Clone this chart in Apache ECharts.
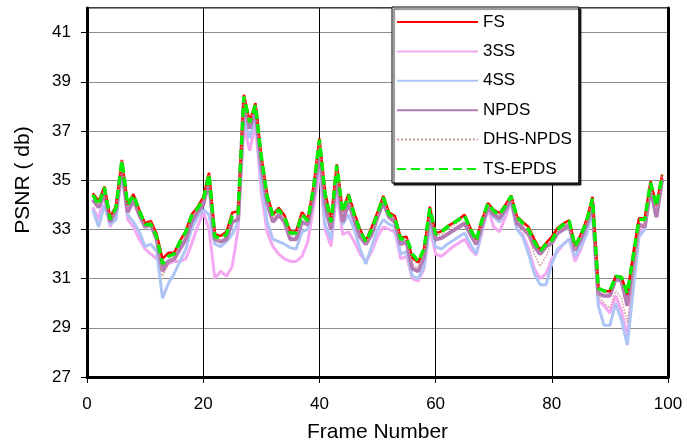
<!DOCTYPE html>
<html>
<head>
<meta charset="utf-8">
<script src="https://cdn.jsdelivr.net/npm/echarts@6/dist/echarts.min.js"></script>
<style>
html,body{margin:0;padding:0;background:#fff;}
#chart{width:687px;height:448px;}
</style>
</head>
<body>
<div id="chart"></div>
<script>
const frames = Array.from({length: 99}, (_, i) => i + 1);
const xTicks = [0, 20, 40, 60, 80, 100];
const yTicks = [27, 29, 31, 33, 35, 37, 39, 41];

const fsVals = [
 34.47, 34.15, 34.74, 33.48, 33.98, 35.82, 34.02, 34.43, 33.79, 33.25, 33.34, 32.8, 31.81, 32.05, 32.05, 32.53, 32.93, 33.6, 33.9, 34.3,
 35.3, 32.8, 32.73, 32.9, 33.68, 33.75, 38.47, 37.4, 38.13, 36.0, 34.43, 33.6, 33.88, 33.57, 32.9, 32.93, 33.7, 33.4, 34.77, 36.7,
 34.5, 33.4, 35.64, 33.75, 34.43, 33.68, 33.0, 32.53, 33.1, 33.7, 34.36, 33.68, 33.54, 32.66, 32.7, 31.85, 31.65, 32.19, 33.92, 32.85,
 32.92, 33.12, 33.26, 33.42, 33.6, 33.05, 32.58, 33.4, 34.07, 33.8, 33.66, 34.0, 34.37, 33.53, 33.3, 33.1, 32.6, 32.17, 32.44, 32.7,
 33.06, 33.24, 33.37, 32.34, 32.79, 33.4, 34.32, 30.62, 30.49, 30.49, 31.1, 31.07, 30.35, 32.0, 33.45, 33.45, 34.96, 34.0, 35.23
];
const ss3Vals = [
 33.9, 33.4, 34.5, 33.1, 33.7, 35.3, 33.4, 33.1, 32.6, 32.2, 32.0, 31.8, 31.7, 31.6, 31.7, 31.7, 31.8, 32.4, 33.1, 33.7,
 33.0, 31.0, 31.3, 31.1, 31.5, 33.0, 37.2, 36.2, 37.3, 34.5, 32.9, 32.3, 32.0, 31.8, 31.7, 31.7, 31.9, 32.5, 33.9, 35.4,
 33.0, 32.3, 34.6, 32.8, 32.9, 32.5, 32.0, 31.7, 32.1, 32.7, 33.1, 33.0, 32.9, 31.8, 31.9, 31.0, 30.9, 31.4, 33.1, 32.0,
 31.9, 32.1, 32.3, 32.45, 32.6, 32.2, 31.95, 32.9, 33.85, 33.1, 32.9, 33.5, 34.1, 33.0, 32.8, 32.2, 31.4, 31.0, 31.2, 31.8,
 32.1, 32.4, 32.6, 31.7, 32.2, 32.9, 33.9, 30.1, 29.9, 29.6, 30.3, 29.7, 28.6, 30.8, 32.8, 33.1, 34.7, 33.6, 35.1
];
const ss4Vals = [
 33.8, 33.1, 34.0, 33.2, 33.4, 35.3, 33.6, 33.3, 32.9, 32.3, 32.4, 32.1, 30.2, 30.8, 31.2, 31.7, 32.2, 33.0, 33.5, 33.8,
 33.6, 32.4, 32.3, 32.5, 32.8, 33.3, 37.5, 36.7, 37.6, 35.0, 33.3, 32.6, 32.5, 32.4, 32.25, 32.2, 32.9, 33.0, 34.3, 35.9,
 33.2, 32.6, 35.0, 33.2, 33.6, 33.0, 32.2, 31.6, 32.3, 33.0, 33.4, 33.2, 33.1, 32.0, 32.1, 31.1, 31.0, 31.5, 33.1, 32.3,
 32.2, 32.4, 32.55, 32.7, 32.85, 32.4, 32.0, 33.0, 33.85, 33.5, 33.3, 33.7, 34.1, 33.0, 32.7, 32.0, 31.2, 30.75, 30.75, 31.6,
 32.2, 32.4, 32.6, 31.9, 32.3, 32.8, 33.8, 29.9, 29.1, 29.1, 30.0, 29.3, 28.3, 30.5, 32.7, 33.0, 34.6, 33.6, 35.0
];
const npdsVals = [
 34.2, 33.9, 34.5, 33.3, 33.8, 35.6, 33.7, 34.2, 33.6, 33.1, 33.2, 32.6, 31.3, 31.7, 31.8, 32.2, 32.6, 33.3, 33.7, 34.0,
 35.0, 32.6, 32.5, 32.6, 33.3, 33.4, 38.2, 37.1, 37.9, 35.6, 34.1, 33.3, 33.6, 33.3, 32.6, 32.6, 33.3, 33.2, 34.4, 36.2,
 34.0, 33.0, 35.3, 33.3, 34.1, 33.4, 32.7, 32.4, 32.8, 33.5, 34.1, 33.5, 33.3, 32.4, 32.5, 31.4, 31.3, 31.9, 33.6, 32.6,
 32.65, 32.8, 32.95, 33.1, 33.25, 32.8, 32.4, 33.2, 33.9, 33.6, 33.45, 33.8, 34.25, 33.25, 33.05, 32.8, 32.3, 32.0, 32.3, 32.45,
 32.85, 33.0, 33.2, 32.15, 32.6, 33.2, 34.1, 30.4, 30.3, 30.3, 31.0, 30.9, 29.9, 31.6, 33.2, 33.1, 34.7, 33.5, 35.05
];
const dhsVals = [
 34.4, 34.0, 34.7, 33.4, 33.9, 35.8, 33.9, 34.3, 33.7, 33.2, 33.3, 32.7, 31.1, 31.6, 31.9, 32.4, 32.8, 33.5, 33.85, 34.2,
 35.2, 32.6, 32.55, 32.75, 33.6, 33.7, 38.4, 37.3, 38.05, 35.9, 34.3, 33.45, 33.75, 33.45, 32.75, 32.8, 33.6, 33.35, 34.7, 36.6,
 34.3, 33.2, 35.55, 33.6, 34.3, 33.55, 32.9, 32.45, 32.9, 33.6, 34.3, 33.6, 33.45, 32.55, 32.6, 31.6, 31.4, 32.0, 33.85, 32.75,
 32.8, 33.0, 33.15, 33.3, 33.5, 33.0, 32.5, 33.35, 34.0, 33.75, 33.6, 33.95, 34.3, 33.45, 33.2, 32.7, 32.0, 31.5, 31.9, 32.5,
 32.9, 33.1, 33.3, 32.2, 32.7, 33.3, 34.25, 30.3, 30.0, 29.8, 30.5, 30.2, 29.2, 31.0, 33.0, 33.2, 34.8, 33.8, 35.2
];
const tsVals = [
 34.4, 34.0, 34.7, 33.4, 33.9, 35.8, 34.0, 34.4, 33.75, 33.2, 33.2, 32.7, 31.6, 31.9, 32.0, 32.5, 32.9, 33.55, 33.85, 34.2,
 35.25, 32.7, 32.65, 32.8, 33.55, 33.65, 38.4, 37.35, 38.05, 35.95, 34.35, 33.55, 33.8, 33.5, 32.85, 32.85, 33.6, 33.35, 34.7, 36.65,
 34.4, 33.3, 35.6, 33.7, 34.4, 33.6, 32.95, 32.5, 33.0, 33.65, 34.3, 33.6, 33.45, 32.6, 32.65, 32.0, 31.7, 32.2, 33.85, 32.8,
 32.9, 33.1, 33.25, 33.4, 33.55, 33.0, 32.55, 33.4, 34.05, 33.75, 33.6, 33.95, 34.35, 33.5, 33.25, 33.0, 32.5, 32.1, 32.4, 32.55,
 33.0, 33.2, 33.35, 32.3, 32.75, 33.35, 34.25, 30.6, 30.5, 30.5, 31.1, 31.05, 30.4, 31.9, 33.4, 33.4, 34.9, 33.95, 35.2
];

const seriesNames = ['FS', '3SS', '4SS', 'NPDS', 'DHS-NPDS', 'TS-EPDS'];
const pair = vals => frames.map((f, i) => [f, vals[i]]);
const FONT = "'Liberation Sans', Arial, sans-serif";

const chart = echarts.init(document.getElementById('chart'), null, {renderer: 'canvas'});

function mk(name, vals, color, width, type, z) {
  return {
    name: name, type: 'line', data: pair(vals), symbol: 'none', showSymbol: false,
    lineStyle: {color: color, width: width, type: type},
    itemStyle: {color: color},
    z: z, animation: false
  };
}

chart.setOption({
  animation: false,
  backgroundColor: '#ffffff',
  grid: {left: 87, right: 19, top: 8, bottom: 70, show: true, borderColor: '#000', borderWidth: 1.5, backgroundColor: 'transparent'},
  legend: {
    data: seriesNames,
    orient: 'vertical',
    left: 392, top: 7,
    padding: [5, 7, 4, 4],
    itemWidth: 81, itemHeight: 14, itemGap: 9.4,
    backgroundColor: '#fff', borderColor: '#000', borderWidth: 1,
    shadowColor: 'rgba(0,0,0,0.85)', shadowBlur: 1, shadowOffsetX: 2, shadowOffsetY: 2,
    itemStyle: {opacity: 0},
    textStyle: {fontFamily: FONT, fontSize: 17, color: '#000', lineHeight: 20},
    z: 20
  },
  xAxis: [{
    type: 'value', min: xTicks[0], max: xTicks[xTicks.length - 1], interval: 20,
    axisLine: {show: true, onZero: false, lineStyle: {color: '#000', width: 3}},
    axisTick: {show: true, length: 6, lineStyle: {color: '#000', width: 1}},
    axisLabel: {fontFamily: FONT, fontSize: 17, color: '#000', margin: 19},
    splitLine: {show: true, lineStyle: {color: '#000', width: 1}},
    name: 'Frame Number', nameLocation: 'middle', nameGap: 45,
    nameTextStyle: {fontFamily: FONT, fontSize: 21, color: '#000'}
  }],
  yAxis: [{
    type: 'value', min: yTicks[0], max: 42, interval: 2,
    axisLine: {show: true, onZero: false, lineStyle: {color: '#000', width: 3}},
    axisTick: {show: true, length: 6, lineStyle: {color: '#000', width: 1}},
    axisLabel: {fontFamily: FONT, fontSize: 17, color: '#000', margin: 16, showMaxLabel: false},
    splitLine: {show: true, lineStyle: {color: '#8c8c8c', width: 1}}
  }, {
    type: 'value', min: yTicks[0], max: 42, interval: 2, position: 'right',
    axisLine: {show: true, onZero: false, lineStyle: {color: '#000', width: 3}},
    axisTick: {show: false}, axisLabel: {show: false}, splitLine: {show: false}
  }],
  graphic: [{
    type: 'text', x: 23, y: 180, rotation: Math.PI / 2,
    style: {text: 'PSNR ( db)', font: "21px 'Liberation Sans', Arial, sans-serif", fill: '#000', align: 'center', verticalAlign: 'middle'}
  }],
  series: [
    mk('3SS', ss3Vals, '#f5a8f2', 3, 'solid', 2),
    mk('4SS', ss4Vals, '#aec4f6', 3, 'solid', 2),
    mk('NPDS', npdsVals, '#b47ab4', 4, 'solid', 3),
    mk('FS', fsVals, '#ff0000', 2.5, 'solid', 4),
    mk('DHS-NPDS', dhsVals, '#d49a9a', 1.5, 'dotted', 5),
    mk('TS-EPDS', tsVals, '#00ee00', 3.5, [9, 5], 6)
  ]
});
</script>
</body>
</html>
